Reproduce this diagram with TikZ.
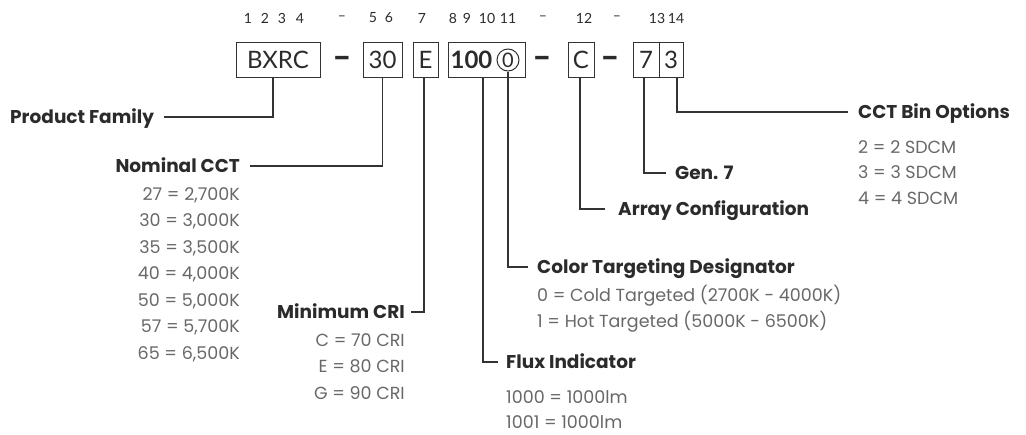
\documentclass[tikz,border=0pt]{standalone}
\usepackage{fontspec}
\setmainfont{Lato}
\newfontfamily\rfont{Poppins}
\definecolor{headc}{HTML}{2B2B2B}
\definecolor{valc}{HTML}{686868}
\definecolor{linec}{HTML}{333333}
\tikzset{
  head/.style={font=\rfont\bfseries\fontsize{18.5}{21}\selectfont, text=headc, inner sep=0pt, text height=13pt, text depth=0pt},
  val/.style={font=\rfont\fontsize{17.5}{21}\selectfont, text=valc, inner sep=0pt, text height=12.3pt, text depth=0pt},
  codebox/.style={draw=linec, line width=1pt, minimum height=35pt, inner sep=0pt, text=headc, font=\fontsize{24}{26}\selectfont},
  boxtxt/.style={inner sep=0pt, text=headc, font=\fontsize{24}{26}\selectfont},
  dashtxt/.style={inner sep=0pt, text=headc, font=\rfont\bfseries\fontsize{24}{26}\selectfont},
  conn/.style={draw=linec, line width=1.1pt},
  digit/.style={font=\fontsize{14}{16}\selectfont, text=headc, inner sep=0pt}
}
\begin{document}
\begin{tikzpicture}[x=1pt,y=-1pt]
\useasboundingbox (0,0) rectangle (1026,434);
% top position digits
\foreach \t/\x [count=\i] in {1/248,2/265,3/282,4/300,–/342,5/373,6/389,7/422,8/453,9/467,10/487,11/508,–/543,12/584,–/617,13/657,14/676}
  \node[digit, name=dg\i] at (\x,18) {\t};
% code boxes
\node[codebox, minimum width=84pt] (bxrc) at (278,59.5) {BXRC};
\node[dashtxt] (d1) at (342,61) {–};
\node[codebox, minimum width=39pt] (cct) at (382.5,59.5) {30};
\node[codebox, minimum width=25pt] (cri) at (425.5,59.5) {E};
\node[codebox, minimum width=77pt] (fluxbox) at (486.5,59.5) {};
\node[boxtxt, font=\bfseries\fontsize{24}{26}\selectfont] (hundred) at (471.5,60) {100};
\node[draw=linec, line width=1pt, circle, minimum size=22pt, inner sep=0pt, text=headc, font=\fontsize{20}{22}\selectfont] (cz) at (508,60) {0};
\node[dashtxt] (d2) at (542,61) {–};
\node[codebox, minimum width=26pt] (arrbox) at (581,59.5) {C};
\node[dashtxt] (d3) at (610,61) {–};
\node[codebox, minimum width=26pt] (genbox) at (646,59.5) {7};
\node[codebox, minimum width=24pt] (binbox) at (671,59.5) {3};
% headings
\node[head, anchor=west] (pf) at (10,117) {Product Family};
\node[head, anchor=east] (nc) at (240,166) {Nominal CCT};
\node[head, anchor=east] (mc) at (405,312) {Minimum CRI};
\node[head, anchor=west] (fi) at (506,362) {Flux Indicator};
\node[head, anchor=west] (ct) at (537,267) {Color Targeting Designator};
\node[head, anchor=west] (ac) at (618,209) {Array Configuration};
\node[head, anchor=west] (g7) at (675,173) {Gen. 7};
\node[head, anchor=west] (cb) at (858,112) {CCT Bin Options};
% values
\foreach \t [count=\i] in {27 = 2{,}700K,30 = 3{,}000K,35 = 3{,}500K,40 = 4{,}000K,50 = 5{,}000K,57 = 5{,}700K,65 = 6{,}500K}
  \node[val, anchor=east, name=ncv\i] at (240,{194+26.5*(\i-1)}) {\t};
\foreach \t [count=\i] in {C = 70 CRI,E = 80 CRI,G = 90 CRI}
  \node[val, anchor=east, name=mcv\i] at (405,{340+26.5*(\i-1)}) {\t};
\node[val, anchor=west] (ctv1) at (537,295) {0 = Cold Targeted (2700K - 4000K)};
\node[val, anchor=west] (ctv2) at (537,321) {1 = Hot Targeted (5000K - 6500K)};
\node[val, anchor=west] (fiv1) at (506,397) {1000 = 1000lm};
\node[val, anchor=west] (fiv2) at (506,422) {1001 = 1000lm};
\foreach \t [count=\i] in {2 = 2 SDCM,3 = 3 SDCM,4 = 4 SDCM}
  \node[val, anchor=west, name=cbv\i] at (858,{147+25.5*(\i-1)}) {\t};
% connectors
\draw[conn] ([xshift=-5pt]bxrc.south) |- ([xshift=10pt]pf.east);
\draw[conn] (cct.south) |- ([xshift=10pt]nc.east);
\draw[conn] ([xshift=-1.5pt]cri.south) |- ([xshift=6pt]mc.east);
\draw[conn] ([xshift=-3.5pt]fluxbox.south) |- ([xshift=-8pt]fi.west);
\draw[conn] (cz.south) |- ([xshift=-9pt]ct.west);
\draw[conn] ([xshift=-1pt]arrbox.south) |- ([xshift=-13pt]ac.west);
\draw[conn] ([xshift=-2pt]genbox.south) |- ([xshift=-9pt]g7.west);
\draw[conn] ([xshift=6pt]binbox.south) |- ([xshift=-10pt]cb.west);
\end{tikzpicture}
\end{document}
